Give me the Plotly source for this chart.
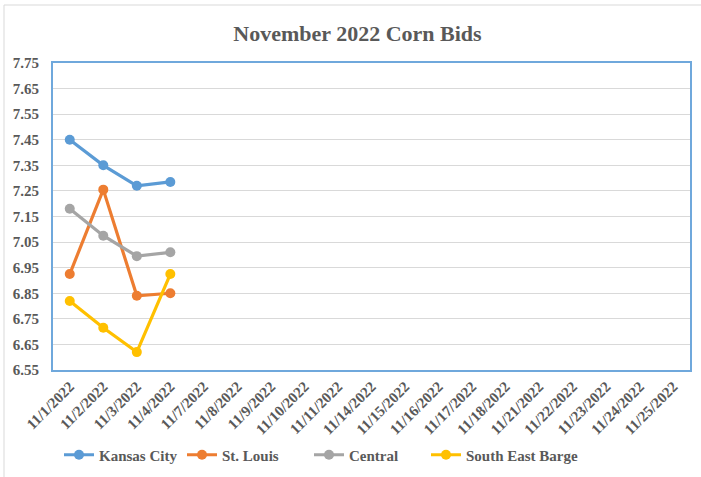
import plotly.graph_objects as go

dates = ["11/1/2022", "11/2/2022", "11/3/2022", "11/4/2022", "11/7/2022", "11/8/2022",
         "11/9/2022", "11/10/2022", "11/11/2022", "11/14/2022", "11/15/2022", "11/16/2022",
         "11/17/2022", "11/18/2022", "11/21/2022", "11/22/2022", "11/23/2022", "11/24/2022",
         "11/25/2022"]
kansas_city = [7.45, 7.35, 7.27, 7.285]
st_louis = [6.925, 7.255, 6.84, 6.85]
central = [7.18, 7.075, 6.995, 7.01]
south_east_barge = [6.82, 6.715, 6.62, 6.925]

series = [
    ("Kansas City", kansas_city, "#5B9BD5"),
    ("St. Louis", st_louis, "#ED7D31"),
    ("Central", central, "#A5A5A5"),
    ("South East Barge", south_east_barge, "#FFC000"),
]
yticks = [round(6.55 + 0.1 * i, 2) for i in range(13)]

W, H = 701, 477
L, R, T, B = 53, 11, 63, 107
pw, ph = W - L - R, H - T - B

legend_ids = ["legend", "legend2", "legend3", "legend4"]
legend_px = [59, 182, 309, 426]

fig = go.Figure()
for (name, vals, col), lid in zip(series, legend_ids):
    fig.add_trace(go.Scatter(
        x=dates[:len(vals)], y=vals, name=name, mode="lines+markers",
        line=dict(color=col, width=3.2), marker=dict(color=col, size=10),
        legend=lid,
    ))

legend_font = dict(family="Liberation Serif", size=15, color="#595959", weight="bold")
legend_layout = {}
for lid, px in zip(legend_ids, legend_px):
    legend_layout[lid] = dict(orientation="h", x=(px - L) / pw, xanchor="left",
                              y=-(455 - (H - B)) / ph, yanchor="middle",
                              font=legend_font, itemwidth=30,
                              bgcolor="rgba(0,0,0,0)")

fig.update_layout(
    width=W, height=H,
    margin=dict(l=L, r=R, t=T, b=B, autoexpand=False),
    paper_bgcolor="white", plot_bgcolor="white",
    title=dict(text="<b>November 2022 Corn Bids</b>", x=0.51, xanchor="center",
               y=1 - 33 / H, yanchor="middle",
               font=dict(family="Liberation Serif", size=22, color="#595959")),
    font=dict(family="Liberation Serif", color="#595959"),
    showlegend=True,
    xaxis=dict(type="category", categoryorder="array", categoryarray=dates,
               tickvals=dates, ticktext=dates, automargin=False,
               range=[-0.5, len(dates) - 0.5], showgrid=False,
               showline=True, linecolor="#6FA8DC", linewidth=2, mirror=True,
               tickangle=-45, ticks="",
               tickfont=dict(family="Liberation Serif", size=15, color="#595959", weight="bold")),
    yaxis=dict(range=[6.55, 7.75], tickvals=yticks, ticktext=[f"{v:.2f}" for v in yticks],
               showgrid=True, gridcolor="#D9D9D9", gridwidth=1.3, automargin=False,
               showline=True, linecolor="#6FA8DC", linewidth=2, mirror=True,
               zeroline=False, ticks="", ticklabelstandoff=9,
               tickfont=dict(family="Liberation Serif", size=15, color="#595959", weight="bold")),
    shapes=[dict(type="rect", xref="paper", yref="paper",
                 x0=(4 - L) / pw, x1=(710 - L) / pw,
                 y0=-(490 - (H - B)) / ph, y1=1 + (T - 5) / ph,
                 line=dict(color="#D9D9D9", width=1), layer="below")],
    **legend_layout,
)

fig.write_html("out.html", config={"displayModeBar": False},
               post_script="document.body.style.margin='0';document.body.style.overflow='hidden';")
